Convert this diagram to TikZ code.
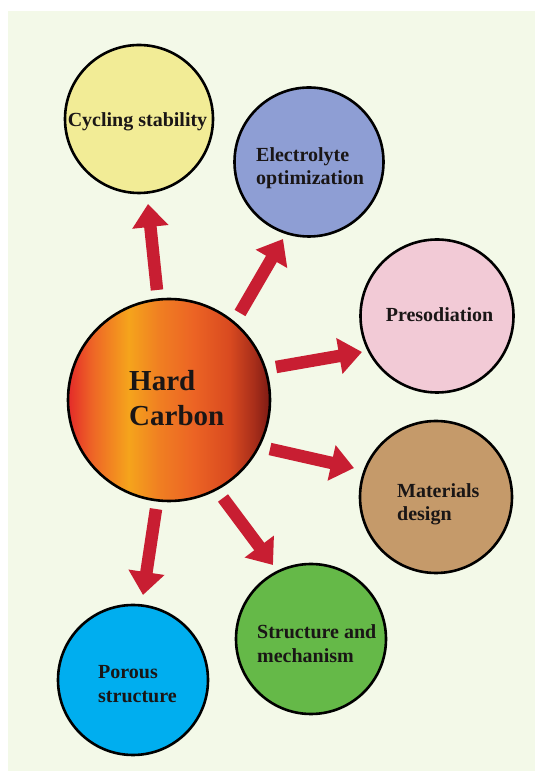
\documentclass[tikz,border=0pt]{standalone}
\usepackage{fontspec}
\setmainfont{Liberation Serif}
\usetikzlibrary{arrows.meta,calc}

% palette
\definecolor{panel}{RGB}{243,249,232}
\definecolor{arrowred}{RGB}{200,30,50}
\definecolor{inkcol}{RGB}{26,22,22}
\definecolor{cycfill}{RGB}{242,236,150}
\definecolor{elefill}{RGB}{142,158,212}
\definecolor{prefill}{RGB}{242,202,214}
\definecolor{matfill}{RGB}{197,154,106}
\definecolor{strfill}{RGB}{101,185,72}
\definecolor{porfill}{RGB}{0,174,239}
% hard carbon gradient stops
\definecolor{hc0}{HTML}{E42A29}
\definecolor{hc1}{HTML}{EE6526}
\definecolor{hc2}{HTML}{F5A41C}
\definecolor{hc3}{HTML}{F07F22}
\definecolor{hc4}{HTML}{EC6424}
\definecolor{hc5}{HTML}{D94A20}
\definecolor{hc6}{HTML}{A82E1A}
\definecolor{hc7}{HTML}{7D1A14}

\pgfdeclarehorizontalshading{hcshade}{100bp}{%
  color(0bp)=(hc0); color(25bp)=(hc0); color(31bp)=(hc1); color(40bp)=(hc2);
  color(47.5bp)=(hc3); color(56bp)=(hc4); color(65bp)=(hc5); color(71bp)=(hc6);
  color(75bp)=(hc7); color(100bp)=(hc7)}

\tikzset{
  bubble/.style={circle, draw=black, line width=2.6pt, inner sep=0pt},
  bigarrow/.style={draw=arrowred, line width=12.5pt,
    -{Triangle[length=23pt,width=35pt]}},
  lbl/.style={font=\fontsize{20}{23}\selectfont\bfseries, text=inkcol,
    inner sep=0pt, anchor=base west},
  lblc/.style={lbl, anchor=base},
  hclbl/.style={font=\fontsize{29}{35}\selectfont\bfseries, text=inkcol,
    inner sep=0pt, anchor=base west}
}

\begin{document}
\begin{tikzpicture}[x=1pt,y=1pt]
  % page and light panel
  \fill[white] (0,0) rectangle (535,771);
  \fill[panel] (8,0) rectangle (535,760);
  \useasboundingbox (0,0) rectangle (535,771);

  % circles
  \node[bubble, minimum size=202pt, shade, shading=hcshade] (hc) at (169,371) {};
  \node[bubble, fill=cycfill, minimum size=148pt] (cyc) at (139,652) {};
  \node[bubble, fill=elefill, minimum size=149pt] (ele) at (309,609) {};
  \node[bubble, fill=prefill, minimum size=153pt] (pre) at (437,455) {};
  \node[bubble, fill=matfill, minimum size=152pt] (mat) at (436,274) {};
  \node[bubble, fill=strfill, minimum size=150pt] (str) at (311,132) {};
  \node[bubble, fill=porfill, minimum size=150pt] (por) at (133,91) {};

  % arrows from the central circle
  \draw[bigarrow] ($(hc)+(-12,110)$) -- ($(cyc)+(9,-85)$);
  \draw[bigarrow] ($(hc)+(71,87)$) -- ($(ele)+(-26,-77)$);
  \draw[bigarrow] ($(hc)+(107,33)$) -- ($(pre)+(-75,-36)$);
  \draw[bigarrow] ($(hc)+(101,-49)$) -- ($(mat)+(-82,29)$);
  \draw[bigarrow] ($(hc)+(-13,-109)$) -- ($(por)+(10,85)$);
  \draw[bigarrow] ($(hc)+(54,-98)$) -- ($(str)+(-38,74)$);

  % labels
  \node[hclbl] (hcA) at ($(hc)+(-40,9)$) {Hard};
  \node[hclbl] (hcB) at ($(hc)+(-40,-26)$) {Carbon};
  \node[lblc] (cycA) at ($(cyc)+(-1.5,-8)$) {Cycling stability};
  \node[lbl] (eleA) at ($(ele)+(-53,0)$) {Electrolyte};
  \node[lbl] (eleB) at ($(ele)+(-53,-23)$) {optimization};
  \node[lblc] (preA) at ($(pre)+(2.5,-6)$) {Presodiation};
  \node[lbl] (matA) at ($(mat)+(-39,-1)$) {Materials};
  \node[lbl] (matB) at ($(mat)+(-39,-24)$) {design};
  \node[lbl] (strA) at ($(str)+(-54,0)$) {Structure and};
  \node[lbl] (strB) at ($(str)+(-54,-24)$) {mechanism};
  \node[lbl] (porA) at ($(por)+(-35,1)$) {Porous};
  \node[lbl] (porB) at ($(por)+(-35,-23)$) {structure};
\end{tikzpicture}
\end{document}
